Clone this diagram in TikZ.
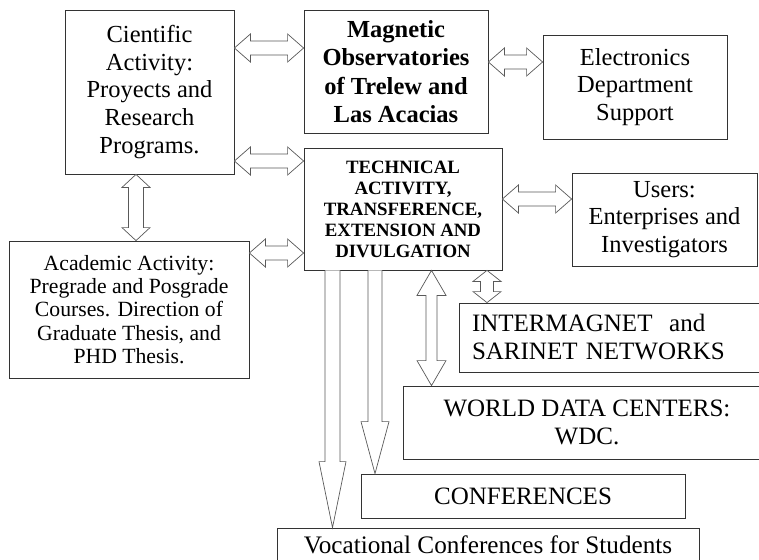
\documentclass[tikz,border=0pt]{standalone}
\usepackage{fontspec}
\setmainfont{Liberation Serif}
\usetikzlibrary{calc}
\tikzset{
  box/.style={draw=black!80, line width=0.8pt, rectangle, align=center, inner sep=0pt},
  hollow/.style={draw=black!65, line width=0.7pt, fill=white, line join=miter},
  txtA/.style={font=\fontsize{24.5}{27.7}\selectfont},
  txtB/.style={font=\fontsize{24.5}{28.5}\selectfont\bfseries},
  txtC/.style={font=\fontsize{18.8}{21}\selectfont\bfseries},
  txtD/.style={font=\fontsize{25}{28}\selectfont},
}
% horizontal double arrow: #1 left point, #2 right point, #3 head length, #4 head half width, #5 shaft half width
\newcommand{\hdouble}[5]{%
  \draw[hollow] let \p1=(#1), \p2=(#2) in
   (\x1,\y1) -- (\x1+#3,\y1+#4) -- (\x1+#3,\y1+#5) -- (\x2-#3,\y1+#5) -- (\x2-#3,\y1+#4)
   -- (\x2,\y1) -- (\x2-#3,\y1-#4) -- (\x2-#3,\y1-#5) -- (\x1+#3,\y1-#5) -- (\x1+#3,\y1-#4) -- cycle;}
% vertical double arrow: #1 top point, #2 bottom point
\newcommand{\vdouble}[5]{%
  \draw[hollow] let \p1=(#1), \p2=(#2) in
   (\x1,\y1) -- (\x1+#4,\y1-#3) -- (\x1+#5,\y1-#3) -- (\x1+#5,\y2+#3) -- (\x1+#4,\y2+#3)
   -- (\x1,\y2) -- (\x1-#4,\y2+#3) -- (\x1-#5,\y2+#3) -- (\x1-#5,\y1-#3) -- (\x1-#4,\y1-#3) -- cycle;}
% single downward arrow, open at the top
\newcommand{\vsingle}[5]{%
  \draw[hollow] let \p1=(#1), \p2=(#2) in
   (\x1-#5,\y1) -- (\x1-#5,\y2+#3) -- (\x1-#4,\y2+#3) -- (\x1,\y2) -- (\x1+#4,\y2+#3)
   -- (\x1+#5,\y2+#3) -- (\x1+#5,\y1);}
\begin{document}
\begin{tikzpicture}[x=1pt,y=-1pt]
\useasboundingbox[fill=white] (0,0) rectangle (759,559);

\node[box, txtA, minimum width=169, minimum height=164] (cie) at (149.5,92)
  {Cientific\\Activity:\\Proyects and\\Research\\Programs.};
\node[box, txtB, minimum width=184, minimum height=123] (mag) at (396,71.5)
  {Magnetic\\Observatories\\of Trelew and\\Las Acacias};
\node[box, txtA, minimum width=184, minimum height=104] (ele) at (635,87)
  {Electronics\\Department\\Support};
\node[box, txtC, minimum width=198, minimum height=122] (tech) at (403,209)
  {TECHNICAL\\ACTIVITY,\\TRANSFERENCE,\\EXTENSION AND\\DIVULGATION};
\node[box, txtA, minimum width=185, minimum height=93] (usr) at (664.5,219.5)
  {Users:\\Enterprises and\\Investigators};
\node[box, font=\fontsize{21.7}{23.2}\selectfont, minimum width=240, minimum height=137] (aca) at (129,309.5)
  {Academic Activity:\\Pregrade and Posgrade\\Courses. Direction of\\Graduate Thesis, and\\PHD Thesis.};
\node[box, txtD, align=left, minimum width=310, minimum height=69, text width=284] (int) at (614,337.5)
  {INTERMAGNET\ \ and\\SARINET NETWORKS};
\node[box, txtD, minimum width=368, minimum height=73] (wdc) at (587,422.5)
  {WORLD DATA CENTERS:\\WDC.};
\node[box, txtD, minimum width=324, minimum height=44] (conf) at (523,496)
  {CONFERENCES};
\node[box, font=\fontsize{25.2}{28}\selectfont, minimum width=422, minimum height=34] (voc) at (488,545)
  {Vocational Conferences for Students};

% connectors
\hdouble{cie.east |- 0,48}{mag.west |- 0,48}{16pt}{14pt}{7pt}
\hdouble{cie.east |- 0,161}{tech.west |- 0,161}{16pt}{14pt}{7pt}
\hdouble{aca.east |- 0,253}{tech.west |- 0,253}{16pt}{14pt}{7pt}
\hdouble{mag.east |- 0,62}{ele.west |- 0,62}{16pt}{14pt}{7pt}
\hdouble{tech.east |- 0,199}{usr.west |- 0,199}{16pt}{14pt}{7pt}
\vdouble{cie.south -| 136,0}{aca.north -| 136,0}{13pt}{14pt}{7.5pt}
\vdouble{tech.south -| 487,0}{int.north -| 487,0}{11pt}{14pt}{6.5pt}
\vdouble{tech.south -| 431.5,0}{wdc.north -| 431.5,0}{25pt}{14.5pt}{5.5pt}
\vsingle{tech.south -| 332.5,0}{voc.north -| 332.5,0}{66pt}{13.5pt}{7.5pt}
\vsingle{tech.south -| 375,0}{conf.north -| 375,0}{52pt}{14pt}{7pt}
\end{tikzpicture}
\end{document}
